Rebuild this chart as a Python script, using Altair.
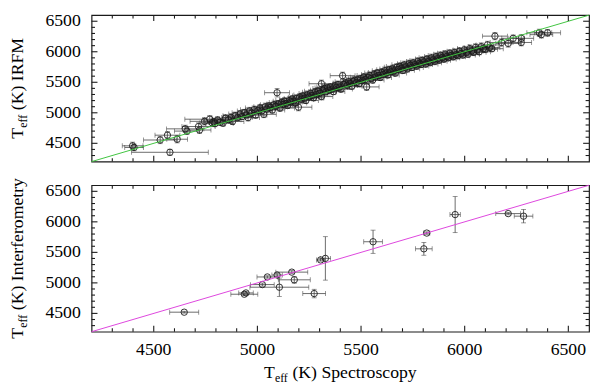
import altair as alt
import pandas as pd

# ---------------- data ----------------
# Top panel: Teff spectroscopy (x) vs Teff IRFM (y), with errors
irfm_x = [4398, 4405, 4531, 4566, 4578, 4613, 4652, 4660, 4716, 4721, 4745, 4770, 4790,
          4782, 4795, 4808, 4820, 4834, 4846, 4861, 4873, 4880, 4894, 4905, 4917, 4926,
          4938, 4947, 4955, 4963, 4972, 4984, 4991, 5003, 5012, 5021, 5031, 5038, 5046,
          5055, 5063, 5072, 5080, 5088, 5095, 5101, 5109, 5117, 5124, 5131, 5139, 5146,
          5154, 5161, 5168, 5175, 5183, 5189, 5198, 5204, 5212, 5219, 5227, 5234, 5241,
          5249, 5256, 5263, 5271, 5278, 5285, 5292, 5300, 5309, 5309, 5316, 5323, 5330,
          5338, 5345, 5352, 5360, 5367, 5374, 5381, 5389, 5396, 5403, 5411, 5418, 5425,
          5433, 5440, 5447, 5455, 5462, 5469, 5477, 5484, 5491, 5499, 5506, 5513, 5520,
          5527, 5534, 5541, 5549, 5556, 5563, 5570, 5578, 5585, 5592, 5600, 5607, 5614,
          5621, 5629, 5636, 5643, 5651, 5658, 5665, 5672, 5680, 5687, 5694, 5702, 5709,
          5716, 5723, 5731, 5738, 5745, 5752, 5760, 5767, 5774, 5782, 5789, 5796, 5804,
          5811, 5818, 5826, 5833, 5840, 5848, 5855, 5862, 5870, 5877, 5884, 5892, 5899,
          5906, 5914, 5921, 5929, 5936, 5944, 5951, 5959, 5967, 5975, 5983, 5991, 5999,
          6008, 6016, 6025, 6034, 6043, 6052, 6061, 6070, 6080, 6090, 6099, 6110, 6120,
          6131, 6146, 6178, 6210, 6234, 6273, 6273, 6360, 6370, 6400]
irfm_y = [4459, 4432, 4554, 4633, 4353, 4567, 4737, 4700, 4775, 4718, 4860, 4895, 4850,
          4835, 4822, 4880, 4846, 4830, 4911, 4887, 4924, 4858, 4952, 4921, 4980, 4938,
          5002, 4965, 4921, 5030, 4996, 5051, 4962, 5040, 5078, 5031, 4975, 5099, 5062,
          5110, 5088, 5045, 5132, 5107, 5329, 5144, 5078, 5170, 5136, 5190, 5152, 5119,
          5202, 5178, 5225, 5191, 5160, 5234, 5092, 5256, 5223, 5275, 5241, 5202, 5292,
          5260, 5317, 5284, 5246, 5336, 5300, 5355, 5321, 5476, 5266, 5370, 5397, 5342,
          5405, 5371, 5422, 5388, 5347, 5440, 5412, 5461, 5420, 5388, 5608, 5465, 5490,
          5448, 5510, 5482, 5436, 5515, 5532, 5491, 5540, 5479, 5557, 5526, 5585, 5544,
          5424, 5580, 5610, 5562, 5536, 5630, 5587, 5652, 5610, 5578, 5661, 5629, 5690,
          5652, 5620, 5704, 5672, 5720, 5685, 5650, 5745, 5710, 5760, 5731, 5695, 5786,
          5752, 5720, 5804, 5776, 5742, 5820, 5788, 5765, 5842, 5811, 5790, 5858, 5833,
          5800, 5880, 5845, 5821, 5902, 5867, 5842, 5921, 5886, 5862, 5940, 5905, 5880,
          5958, 5924, 5901, 5975, 5940, 5918, 5988, 5951, 5935, 6010, 5972, 5948, 6030,
          5990, 5960, 6052, 6012, 5991, 6070, 6030, 6000, 6085, 6050, 6040, 6112, 6068,
          6050, 6256, 6152, 6136, 6220, 6220, 6152, 6310, 6280, 6310]
irfm_xerr = [50, 45, 80, 60, 185, 50, 90, 60, 80, 55, 70, 120, 50,
             60, 45, 70, 55, 50, 65, 60, 45, 55, 60, 70, 55, 50,
             60, 45, 55, 60, 50, 65, 55, 60, 70, 50, 60, 55, 60,
             45, 55, 60, 65, 50, 60, 55, 70, 60, 45, 55, 60, 50,
             65, 55, 60, 50, 55, 60, 65, 55, 60, 50, 55, 60, 65,
             50, 55, 60, 50, 60, 55, 65, 50, 60, 55, 60, 55, 50,
             60, 55, 65, 50, 55, 60, 55, 60, 50, 55, 60, 55, 60,
             50, 65, 55, 50, 60, 55, 60, 55, 50, 60, 55, 65, 50,
             60, 55, 60, 50, 55, 60, 55, 60, 50, 55, 65, 55, 60,
             50, 55, 60, 55, 60, 50, 55, 60, 55, 65, 50, 55, 60,
             55, 60, 55, 50, 55, 60, 55, 60, 55, 50, 55, 60, 55,
             60, 55, 50, 55, 60, 55, 60, 55, 50, 55, 60, 55, 60,
             55, 50, 55, 60, 55, 60, 55, 50, 55, 60, 55, 60, 55,
             50, 55, 60, 55, 60, 55, 50, 55, 60, 55, 60, 55, 50,
             55, 60, 55, 60, 55, 60, 50, 60, 55, 63]
irfm_yerr = [60, 55, 60, 60, 50, 60, 60, 55, 60, 55, 60, 60, 55,
             55, 50, 60, 55, 50, 60, 55, 55, 50, 60, 55, 60, 50,
             55, 50, 55, 60, 55, 60, 50, 55, 60, 50, 55, 60, 55,
             60, 55, 50, 60, 55, 70, 55, 55, 60, 55, 60, 55, 50,
             60, 55, 60, 55, 50, 55, 60, 60, 55, 60, 55, 50, 60,
             55, 60, 55, 50, 60, 55, 60, 55, 60, 55, 55, 60, 50,
             60, 55, 60, 55, 50, 60, 55, 60, 55, 50, 60, 55, 60,
             55, 60, 55, 50, 55, 60, 55, 60, 50, 60, 55, 60, 55,
             60, 55, 60, 55, 50, 60, 55, 60, 55, 50, 60, 55, 60,
             55, 50, 60, 55, 60, 55, 50, 60, 55, 60, 55, 50, 60,
             55, 55, 60, 55, 50, 60, 55, 55, 60, 55, 50, 60, 55,
             55, 60, 55, 50, 60, 55, 55, 60, 55, 50, 60, 55, 55,
             60, 55, 50, 60, 55, 55, 60, 55, 50, 60, 55, 55, 60,
             55, 50, 60, 55, 55, 60, 55, 50, 60, 55, 55, 60, 55,
             50, 60, 60, 60, 55, 60, 55, 60, 55, 55]

# Bottom panel: Teff spectroscopy (x) vs Teff interferometry (y)
int_x = [4647, 4937, 4945, 5024, 5048, 5095, 5106, 5166, 5178, 5274, 5305, 5328,
         5558, 5803, 5817, 5954, 6210, 6284]
int_y = [4520, 4814, 4835, 4972, 5097, 5129, 4929, 5176, 5050, 4825, 5376, 5401,
         5674, 5558, 5816, 6119, 6135, 6093]
int_xerr = [70, 65, 35, 57, 50, 25, 142, 77, 77, 55, 20, 25, 45, 40, 15, 25, 60, 45]
int_yerr = [15, 20, 20, 25, 20, 25, 150, 25, 55, 70, 20, 356, 190, 105, 20, 296, 20, 110]

# one-to-one reference line
one_to_one = [4200, 6600]

# axes
x_domain = [4200, 6600]
y_domain = [4200, 6600]
major_ticks = [4500, 5000, 5500, 6000, 6500]
minor_ticks = [4300, 4400, 4600, 4700, 4800, 4900, 5100, 5200, 5300, 5400,
               5600, 5700, 5800, 5900, 6100, 6200, 6300, 6400]

# ---------------- chart ----------------
W, H = 506, 149
FONT = "Liberation Serif"
INK = "#1a1a1a"
BAR = "#454545"


def xenc(field):
    return alt.X(f"{field}:Q", scale=alt.Scale(domain=x_domain, nice=False, zero=False),
                 axis=None)


def yenc(field):
    return alt.Y(f"{field}:Q", scale=alt.Scale(domain=y_domain, nice=False, zero=False),
                 axis=None)


def frame_ticks():
    maj = pd.DataFrame({"v": major_ticks})
    mnr = pd.DataFrame({"v": minor_ticks})
    layers = []
    for df, ln in ((maj, 6), (mnr, 3.5)):
        base = alt.Chart(df).mark_rule(color=INK, strokeWidth=1.1)
        layers.append(base.encode(x=xenc("v"), y=alt.value(H), y2=alt.value(H - ln)))
        layers.append(base.encode(x=xenc("v"), y=alt.value(0), y2=alt.value(ln)))
        layers.append(base.encode(y=yenc("v"), x=alt.value(0), x2=alt.value(ln)))
        layers.append(base.encode(y=yenc("v"), x=alt.value(W), x2=alt.value(W - ln)))
    return layers


def tick_labels(with_x):
    maj = alt.Chart(pd.DataFrame({"v": major_ticks}))
    layers = [maj.mark_text(font=FONT, fontSize=18, align="right", baseline="middle",
                            color="black").encode(
        y=yenc("v"), x=alt.value(-11), text=alt.Text("v:Q", format="d"))]
    if with_x:
        layers.append(maj.mark_text(font=FONT, fontSize=18, align="center",
                                    baseline="middle", color="black").encode(
            x=xenc("v"), y=alt.value(H + 19), text=alt.Text("v:Q", format="d")))
    return layers


def text_piece(txt, x, y, size, angle=0):
    return alt.Chart(pd.DataFrame({"t": [txt]})).mark_text(
        font=FONT, fontSize=size, align="left", baseline="alphabetic",
        angle=angle, color="black").encode(text="t:N", x=alt.value(x), y=alt.value(y))


def y_title(rest, total_len):
    ys = H / 2 + total_len / 2
    return [
        text_piece("T", -70, ys, 18, 270),
        text_piece("eff", -66, ys - 11.2, 12, 270),
        text_piece(rest, -70, ys - 29, 18, 270),
    ]


def panel(xs, ys, xe, ye, line_color, with_x, title_layers):
    df = pd.DataFrame({"x": xs, "y": ys})
    df["xlo"] = [a - b for a, b in zip(xs, xe)]
    df["xhi"] = [a + b for a, b in zip(xs, xe)]
    df["ylo"] = [a - b for a, b in zip(ys, ye)]
    df["yhi"] = [a + b for a, b in zip(ys, ye)]
    base = alt.Chart(df)
    xbars = base.mark_errorbar(ticks=True, color=BAR, thickness=0.8, size=5).encode(
        x=xenc("xlo"), x2="xhi:Q", y=yenc("y"))
    ybars = base.mark_errorbar(ticks=True, color=BAR, thickness=0.8, size=5).encode(
        y=yenc("ylo"), y2="yhi:Q", x=xenc("x"))
    pts = base.mark_point(shape="circle", filled=False, size=42, strokeWidth=0.9,
                          color=INK, opacity=1).encode(x=xenc("x"), y=yenc("y"))
    line = alt.Chart(pd.DataFrame({"a": one_to_one, "b": one_to_one})).mark_line(
        color=line_color, strokeWidth=1).encode(x=xenc("a"), y=yenc("b"))
    layers = ([xbars, ybars, pts, line] + frame_ticks() + tick_labels(with_x)
              + title_layers)
    return alt.layer(*layers).properties(width=W, height=H)


top = panel(irfm_x, irfm_y, irfm_xerr, irfm_yerr, "#3fc43f", False,
            y_title("(K) IRFM", 102.3))

x0 = W / 2 - 77.7
yb = H + 47
x_title = [
    text_piece("T", x0, yb, 18),
    text_piece("eff", x0 + 11.2, yb + 4, 12),
    text_piece("(K) Spectroscopy", x0 + 29, yb, 18),
]
bottom = panel(int_x, int_y, int_xerr, int_yerr, "#dd44dd", True,
               y_title("(K) Interferometry", 163.2) + x_title)

chart = alt.vconcat(top, bottom, spacing=24, bounds="flush").properties(
    padding={"left": 0, "right": 0, "top": 0, "bottom": 0},
    background="white",
).configure_view(stroke=INK, strokeWidth=1.2)

chart.save("out.html", embed_options={"renderer": "svg", "actions": False})
